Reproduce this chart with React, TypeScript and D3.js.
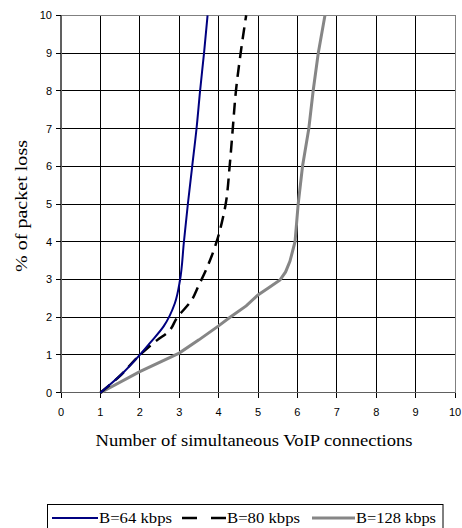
import React from 'react';
import * as d3 from 'd3';

// values
const xTicks = [0, 1, 2, 3, 4, 5, 6, 7, 8, 9, 10];
const yTicks = [0, 1, 2, 3, 4, 5, 6, 7, 8, 9, 10];

const b64X = [1, 1.55, 2.0, 2.26, 2.6, 2.89, 3.02, 3.12, 3.22, 3.33, 3.44, 3.53, 3.63, 3.72];
const b64Y = [0, 0.5, 1.0, 1.32, 1.75, 2.37, 2.98, 4, 5, 6, 7, 8, 9, 10];

const b80X = [1, 1.5, 2.0, 2.45, 2.72, 2.94, 3.32, 3.48, 3.70, 3.95, 4.08, 4.18, 4.28, 4.36, 4.44, 4.56, 4.7];
const b80Y = [0, 0.45, 1.0, 1.4, 1.61, 1.98, 2.46, 2.81, 3.3, 4, 4.5, 5, 6, 7, 8, 9, 10];

const b128X = [1, 2, 3, 3.5, 4, 4.29, 4.7, 5, 5.3, 5.56, 5.7, 5.81, 5.94, 5.98, 6.02, 6.13, 6.29, 6.4, 6.53, 6.7];
const b128Y = [0, 0.56, 1.05, 1.4, 1.77, 2.0, 2.3, 2.59, 2.8, 2.99, 3.2, 3.48, 4.0, 4.5, 5, 6, 7, 8, 9, 10];

const legendLabels = ['B=64 kbps', 'B=80 kbps', 'B=128 kbps'];

export default function App() {
  const x = d3.scaleLinear().domain([0, 10]).range([61, 455]);
  const y = d3.scaleLinear().domain([0, 10]).range([392.7, 15.3]);

  const zip = (xs: number[], ys: number[]) => xs.map((v, i) => [v, ys[i]] as [number, number]);
  const smooth = d3.line<[number, number]>()
    .x(d => x(d[0]))
    .y(d => y(d[1]))
    .curve(d3.curveMonotoneY);
  const straight = d3.line<[number, number]>()
    .x(d => x(d[0]))
    .y(d => y(d[1]));

  const sans = { fontFamily: "'Liberation Sans', Arimo, Arial, sans-serif" };
  const serif = { fontFamily: "'Liberation Serif', Tinos, 'Times New Roman', 'DejaVu Serif', serif" };

  return (
    <svg width={462} height={528} style={{ position: 'absolute', left: 0, top: 0, background: '#fff' }}>
      {/* grid */}
      <g shapeRendering="crispEdges">
        {xTicks.slice(1, -1).map(t => (
          <line key={'vx' + t} x1={x(t)} x2={x(t)} y1={y(0)} y2={y(10)} stroke="#000" strokeWidth={1} />
        ))}
        {yTicks.slice(1, -1).map(t => (
          <line key={'hy' + t} x1={x(0)} x2={x(10)} y1={y(t)} y2={y(t)} stroke="#000" strokeWidth={1} />
        ))}
        {/* border and axes */}
        <line x1={x(0)} x2={x(10)} y1={y(10)} y2={y(10)} stroke="#808080" />
        <line x1={x(10)} x2={x(10)} y1={y(0)} y2={y(10)} stroke="#808080" />
        <line x1={x(0)} x2={x(10)} y1={y(0)} y2={y(0)} stroke="#606060" strokeWidth={1.5} />
        <line x1={x(0)} x2={x(0)} y1={y(0)} y2={y(10)} stroke="#606060" strokeWidth={1.5} />
        {yTicks.map(t => (
          <line key={'ty' + t} x1={x(0) - 5} x2={x(0)} y1={y(t)} y2={y(t)} stroke="#000" />
        ))}
        {xTicks.map(t => (
          <line key={'tx' + t} x1={x(t)} x2={x(t)} y1={y(0)} y2={y(0) + 5} stroke="#000" />
        ))}
      </g>

      {/* tick labels */}
      {yTicks.map(t => (
        <text key={'ly' + t} x={x(0) - 9} y={y(t) + 4} textAnchor="end" style={sans} fontSize={11} fill="#000">
          {t}
        </text>
      ))}
      {xTicks.map(t => (
        <text key={'lx' + t} x={x(t)} y={416} textAnchor="middle" style={sans} fontSize={11} fill="#000">
          {t}
        </text>
      ))}

      {/* series */}
      <path d={straight(zip(b128X, b128Y)) || ''} fill="none" stroke="#868686" strokeWidth={3} />
      <path d={smooth(zip(b80X, b80Y)) || ''} fill="none" stroke="#000" strokeWidth={2.5} strokeDasharray="12,7" />
      <path d={smooth(zip(b64X, b64Y)) || ''} fill="none" stroke="#000080" strokeWidth={2} />

      {/* axis titles */}
      <text x={254} y={446} textAnchor="middle" style={serif} fontSize={16} textLength={317} lengthAdjust="spacingAndGlyphs">
        Number of simultaneous VoIP connections
      </text>
      <text transform="translate(27,206) rotate(-90)" textAnchor="middle" style={serif} fontSize={16} textLength={132} lengthAdjust="spacingAndGlyphs">
        % of packet loss
      </text>

      {/* legend */}
      <rect x={47.5} y={504.5} width={395.5} height={30} fill="#fff" stroke="#000" strokeWidth={1} />
      <line x1={52} x2={98} y1={518} y2={518} stroke="#000080" strokeWidth={2} />
      <text x={99} y={523} style={serif} fontSize={15} textLength={73} lengthAdjust="spacingAndGlyphs">{legendLabels[0]}</text>
      <line x1={182} x2={226} y1={518} y2={518} stroke="#000" strokeWidth={2.5} strokeDasharray="15,14" />
      <text x={227} y={523} style={serif} fontSize={15} textLength={73} lengthAdjust="spacingAndGlyphs">{legendLabels[1]}</text>
      <line x1={312} x2={355} y1={518} y2={518} stroke="#868686" strokeWidth={3} />
      <text x={356} y={523} style={serif} fontSize={15} textLength={80} lengthAdjust="spacingAndGlyphs">{legendLabels[2]}</text>
    </svg>
  );
}
